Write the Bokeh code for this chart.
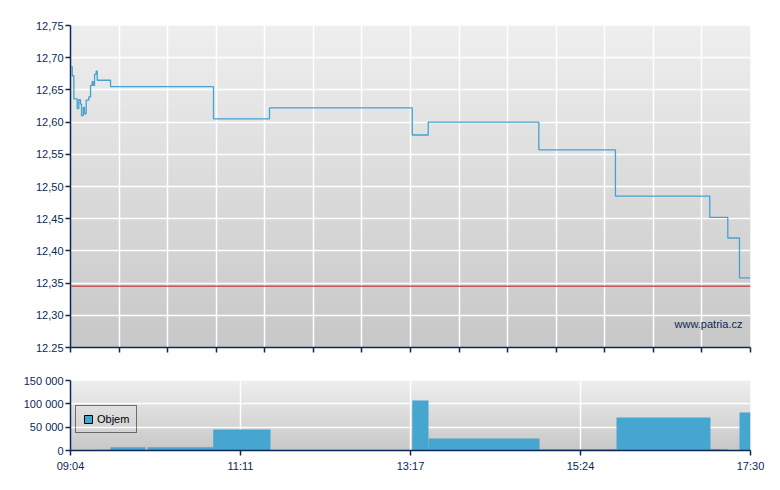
import numpy as np
from bokeh.plotting import figure
from bokeh.layouts import column
from bokeh.models import (FixedTicker, Span, Label, Legend, LegendItem, Range1d,
                          CustomJSTickFormatter)
from bokeh.embed import file_html
from bokeh.resources import INLINE

# ---------------- data ----------------
# time in minutes after session start 09:04 (session ends 17:30)
session_minutes = 506
x_tick_labels = ["09:04", "11:11", "13:17", "15:24", "17:30"]

price_times = [0.7, 1.3, 2.5, 3.7, 5.0, 6.2, 7.4, 8.2, 9.5, 10.4, 11.7, 13.6, 14.9,
               16.1, 16.9, 17.9, 19.1, 19.9, 29.8, 106.4, 148.1, 254.3, 266.2, 348.5,
               405.5, 475.7, 489.1, 497.8, 506.0]
price_values = [12.686, 12.672, 12.636, 12.636, 12.621, 12.635, 12.628, 12.610, 12.623,
                12.613, 12.634, 12.639, 12.657, 12.663, 12.657, 12.674, 12.679, 12.665,
                12.655, 12.605, 12.622, 12.580, 12.600, 12.557, 12.485, 12.452, 12.420,
                12.358, 12.358]
prev_close = 12.345

price_ticks = [12.25, 12.30, 12.35, 12.40, 12.45, 12.50, 12.55, 12.60, 12.65, 12.70, 12.75]
price_tick_labels = ["12.25", "12,30", "12,35", "12,40", "12,45", "12,50", "12,55",
                     "12,60", "12,65", "12,70", "12,75"]

vol_start = [19.9, 29.8, 57.3, 106.2, 254.3, 266.4, 349.0, 406.3, 476.2, 497.8]
vol_end = [29.8, 55.8, 106.2, 148.8, 266.4, 349.0, 406.3, 476.2, 488.9, 506.0]
volume = [1500, 7000, 7000, 45000, 107000, 25700, 2800, 70700, 2800, 81400]

vol_ticks = [0, 50000, 100000, 150000]
vol_tick_labels = ["0", "50 000", "100 000", "150 000"]

# ---------------- style ----------------
NAVY = "#0c2856"
LINE = "#45a2d0"
BAR = "#47a6cf"
FONT = "Liberation Sans"


def gradient_image(n=256):
    img = np.empty((n, 1), dtype=np.uint32)
    view = img.view(dtype=np.uint8).reshape((n, 1, 4))
    vals = np.linspace(0xC8, 0xEF, n).astype(np.uint8)
    view[:, 0, 0] = vals
    view[:, 0, 1] = vals
    view[:, 0, 2] = vals
    view[:, 0, 3] = 255
    return img


def style_axes(p):
    for ax in (p.xaxis[0], p.yaxis[0]):
        ax.axis_line_color = NAVY
        ax.axis_line_width = 1.5
        ax.major_tick_line_color = NAVY
        ax.major_tick_line_width = 1.5
        ax.major_tick_out = 5
        ax.major_tick_in = 0
        ax.minor_tick_line_color = None
        ax.major_label_text_color = NAVY
        ax.major_label_text_font = FONT
        ax.major_label_text_font_size = "11px"
    p.yaxis[0].major_label_standoff = 2
    p.xaxis[0].major_label_standoff = 4
    p.grid.grid_line_color = "white"
    p.grid.grid_line_width = 1.5


# ---------------- price chart ----------------
p1 = figure(frame_width=680, frame_height=322,
            x_range=Range1d(0, session_minutes), y_range=Range1d(12.25, 12.75),
            output_backend="svg", toolbar_location=None,
            min_border_left=70, min_border_right=22, min_border_top=25, min_border_bottom=15,
            outline_line_color=None, border_fill_color="white")
p1.image_rgba(image=[gradient_image()], x=0, y=12.25, dw=session_minutes, dh=0.5, level="image")
style_axes(p1)
p1.xaxis.ticker = FixedTicker(ticks=[session_minutes * i / 14 for i in range(15)])
p1.xaxis.formatter = CustomJSTickFormatter(code="return '';")
p1.xaxis.major_label_standoff = 0
p1.yaxis.ticker = FixedTicker(ticks=price_ticks)
p1.yaxis.formatter = CustomJSTickFormatter(args=dict(labels=price_tick_labels),
                                           code="return labels[index];")

p1.step(price_times, price_values, mode="after", line_color=LINE, line_width=1.3)
p1.add_layout(Span(location=prev_close, dimension="width", line_color="#c24a4d",
                   line_width=1.5, line_alpha=0.9))
p1.add_layout(Label(x=500, y=12.287, text="www.patria.cz", text_align="right",
                    text_baseline="middle", text_font=FONT, text_font_size="11px",
                    text_color=NAVY))

# ---------------- volume chart ----------------
p2 = figure(frame_width=680, frame_height=70,
            x_range=Range1d(0, session_minutes), y_range=Range1d(0, 150000),
            output_backend="svg", toolbar_location=None,
            min_border_left=70, min_border_right=22, min_border_top=18, min_border_bottom=30,
            outline_line_color=None, border_fill_color="white")
p2.image_rgba(image=[gradient_image()], x=0, y=0, dw=session_minutes, dh=150000, level="image")
style_axes(p2)
p2.xaxis.ticker = FixedTicker(ticks=[session_minutes * i / 4 for i in range(5)])
p2.xaxis.formatter = CustomJSTickFormatter(args=dict(labels=x_tick_labels),
                                           code="return labels[index];")
p2.yaxis.ticker = FixedTicker(ticks=vol_ticks)
p2.yaxis.formatter = CustomJSTickFormatter(args=dict(labels=vol_tick_labels),
                                           code="return labels[index];")

p2.quad(left=vol_start, right=vol_end, bottom=0, top=volume, fill_color=BAR, line_color=None)
legend_r = p2.quad(left=[np.nan], right=[np.nan], bottom=[np.nan], top=[np.nan],
                   fill_color=BAR, line_color="black", line_width=1)
legend = Legend(items=[LegendItem(label="Objem", renderers=[legend_r])],
                location=(5, 17), orientation="vertical",
                border_line_color="black", border_line_width=1,
                background_fill_alpha=0, margin=0, padding=7,
                glyph_width=10, glyph_height=10, label_standoff=4,
                label_text_font=FONT, label_text_font_size="11px", label_text_color="black",
                label_height=12)
p2.add_layout(legend)

layout = column(p1, p2, spacing=0)
open("out.html", "w").write(file_html(layout, INLINE))
